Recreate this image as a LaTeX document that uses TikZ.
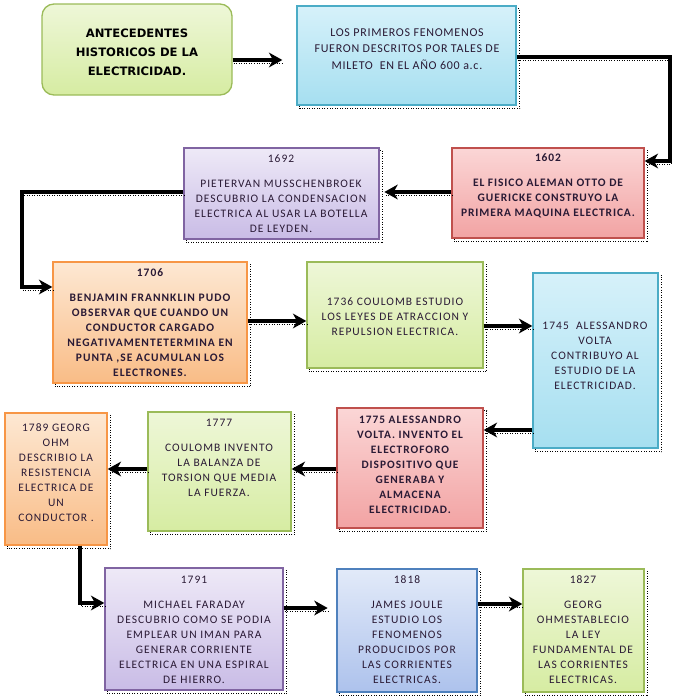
\documentclass[tikz,border=0pt]{standalone}
\usepackage{fontspec}
\setmainfont{Carlito}
\newfontfamily\spaced[LetterSpace=9]{Carlito}
\newfontfamily\spacedb[LetterSpace=5]{Carlito}
\newfontfamily\titlefont{DejaVu Sans Bold}
\usetikzlibrary{arrows.meta,fit,backgrounds}
\definecolor{txtc}{HTML}{2A1A35}
\definecolor{gB}{HTML}{9BBB59}\definecolor{gT}{HTML}{EEF7D8}\definecolor{gL}{HTML}{D6ECA2}
\definecolor{cB}{HTML}{4BACC6}\definecolor{cT}{HTML}{D6F1FA}\definecolor{cL}{HTML}{A6DFF0}
\definecolor{rB}{HTML}{C0504D}\definecolor{rT}{HTML}{FBD6D6}\definecolor{rL}{HTML}{F2A3A3}
\definecolor{pB}{HTML}{8064A2}\definecolor{pT}{HTML}{EEE9F7}\definecolor{pL}{HTML}{C9BCE6}
\definecolor{oB}{HTML}{F79646}\definecolor{oT}{HTML}{FDE8D3}\definecolor{oL}{HTML}{F9BC86}
\definecolor{bB}{HTML}{4F81BD}\definecolor{bT}{HTML}{E2EAF9}\definecolor{bL}{HTML}{ADC2EC}
\tikzset{
  box/.style={draw=#1B, line width=1pt, top color=#1T, bottom color=#1L, inner sep=0pt},
  shadowline/.style={draw=black, line width=0.6pt, dash pattern=on 0.6pt off 1.3pt},
  txt/.style={align=center, text=txtc, inner sep=0pt, font=\spaced\fontsize{8.6}{11.25}\selectfont},
  txtb/.style={txt, font=\spacedb\fontsize{8.5}{11.25}\selectfont\bfseries},
  arr/.style={line width=2.8pt, line join=miter,
    -{Stealth[length=10pt,width=11pt,inset=3pt]},
    preaction={draw=black, line width=0.6pt, dash pattern=on 0.6pt off 1.3pt, -,
      transform canvas={shift={(0.8pt,-2.4pt)}}}},
}
\begin{document}
\begin{tikzpicture}[x=0.75pt,y=-0.75pt]
\useasboundingbox (0,0) rectangle (684,700);
% boxes
\node[box=g, rounded corners=9pt, fit={(42,4)(232,95)}] (b1) {};
\node[box=c, fit={(297,6)(516,105)}] (b2) {};
\node[box=r, fit={(452,148)(644,238)}] (b3) {};
\node[box=p, fit={(184,148)(379,239)}] (b4) {};
\node[box=o, fit={(53,262)(247,383)}] (b5) {};
\node[box=g, fit={(307,262)(483,368)}] (b6) {};
\node[box=c, fit={(533,273)(658,448)}] (b7) {};
\node[box=r, fit={(337,408)(483,528)}] (b8) {};
\node[box=g, fit={(148,412)(291,531)}] (b9) {};
\node[box=o, fit={(5,413)(107,545)}] (b10) {};
\node[box=p, fit={(105,568)(283,690)}] (b11) {};
\node[box=b, fit={(337,569)(477,692)}] (b12) {};
\node[box=g, fit={(523,569)(644,692)}] (b13) {};
% dotted shadows
\begin{scope}[on background layer]
\foreach \n in {b2,b3,b4,b5,b6,b7,b8,b9,b10,b11,b12,b13}
  \draw[shadowline] ([shift={(2.4pt,-2.4pt)}]\n.south west) rectangle ([shift={(2.4pt,-2.4pt)}]\n.north east);
\end{scope}
% texts
\node[txt, text=black, font=\titlefont\fontsize{8.7}{14.25}\selectfont] (t1) at (137,52) {ANTECEDENTES\\HISTORICOS DE LA\\ELECTRICIDAD.};
\node[txt, font=\addfontfeature{LetterSpace=6}\fontsize{9}{12.6}\selectfont] (t2) at (407,49) {LOS PRIMEROS FENOMENOS\\FUERON DESCRITOS POR TALES DE\\MILETO\ \ EN EL AÑO 600 a.c.};
\node[txtb, font=\addfontfeature{LetterSpace=8}\fontsize{8.6}{11.25}\selectfont\bfseries] (t3) at (548,186) {1602\\[7.5pt]EL FISICO ALEMAN OTTO DE\\GUERICKE CONSTRUYO LA\\PRIMERA MAQUINA ELECTRICA.};
\node[txt] (t4) at (281,193.5) {1692\\[7.5pt]PIETERVAN MUSSCHENBROEK\\DESCUBRIO LA CONDENSACION\\ELECTRICA AL USAR LA BOTELLA\\DE LEYDEN.};
\node[txtb, font=\addfontfeature{LetterSpace=9}\fontsize{8.6}{11.25}\selectfont\bfseries] (t5) at (150,323) {1706\\[7.5pt]BENJAMIN FRANNKLIN PUDO\\OBSERVAR QUE CUANDO UN\\CONDUCTOR CARGADO\\NEGATIVAMENTETERMINA EN\\PUNTA ,SE ACUMULAN LOS\\ELECTRONES.};
\node[txt] (t6) at (395,317) {1736 COULOMB ESTUDIO\\LOS LEYES DE ATRACCION Y\\REPULSION ELECTRICA.};
\node[txt] (t7) at (595,356) {1745\ \ ALESSANDRO\\VOLTA\\CONTRIBUYO AL\\ESTUDIO DE LA\\ELECTRICIDAD.};
\node[txtb, font=\addfontfeature{LetterSpace=9}\fontsize{8.5}{11.25}\selectfont\bfseries] (t8) at (410,465) {1775 ALESSANDRO\\VOLTA.\ INVENTO EL\\ELECTROFORO\\DISPOSITIVO QUE\\GENERABA Y\\ALMACENA\\ELECTRICIDAD.};
\node[txt] (t9) at (219,458) {1777\\[7.5pt]COULOMB INVENTO\\LA BALANZA DE\\TORSION QUE MEDIA\\LA FUERZA.};
\node[txt] (t10) at (56,473) {1789 GEORG\\OHM\\DESCRIBIO LA\\RESISTENCIA\\ELECTRICA DE\\UN\\CONDUCTOR .};
\node[txt] (t11) at (194,629.5) {1791\\[7.5pt]MICHAEL FARADAY\\DESCUBRIO COMO SE PODIA\\EMPLEAR UN IMAN PARA\\GENERAR CORRIENTE\\ELECTRICA EN UNA ESPIRAL\\DE HIERRO.};
\node[txt] (t12) at (407,630) {1818\\[7.5pt]JAMES JOULE\\ESTUDIO LOS\\FENOMENOS\\PRODUCIDOS POR\\LAS CORRIENTES\\ELECTRICAS.};
\node[txt] (t13) at (583,630) {1827\\[7.5pt]GEORG\\OHMESTABLECIO\\LA LEY\\FUNDAMENTAL DE\\LAS CORRIENTES\\ELECTRICAS.};
% levels / corners
\coordinate (y1) at (0,60);
\coordinate (y2) at (0,57);
\coordinate (c2) at (670,161);
\coordinate (y3) at (0,192);
\coordinate (c4) at (22,287);
\coordinate (y5) at (0,321);
\coordinate (y6) at (0,326);
\coordinate (y7) at (0,430);
\coordinate (y8) at (0,469);
\coordinate (c10) at (80,603);
\coordinate (y11) at (0,608);
\coordinate (y12) at (0,604);
% connectors
\draw[arr, shorten >=10.5pt] (b1.east |- y1) -- (b2.west |- y1);
\draw[arr] (b2.east |- y2) -| (c2) -- (b3.east |- c2);
\draw[arr, shorten >=3.5pt] (b3.west |- y3) -- (b4.east |- y3);
\draw[arr] (b4.west |- y3) -| (c4) -- (b5.west |- c4);
\draw[arr] (b5.east |- y5) -- (b6.west |- y5);
\draw[arr] (b6.east |- y6) -- (b7.west |- y6);
\draw[arr] (b7.west |- y7) -- (b8.east |- y7);
\draw[arr] (b8.west |- y8) -- (b9.east |- y8);
\draw[arr] (b9.west |- y8) -- (b10.east |- y8);
\draw[arr] (b10.south -| c10) -- (c10) -- (b11.west |- c10);
\draw[arr, shorten >=6.5pt] (b11.east |- y11) -- (b12.west |- y11);
\draw[arr] (b12.east |- y12) -- (b13.west |- y12);
\end{tikzpicture}
\end{document}
